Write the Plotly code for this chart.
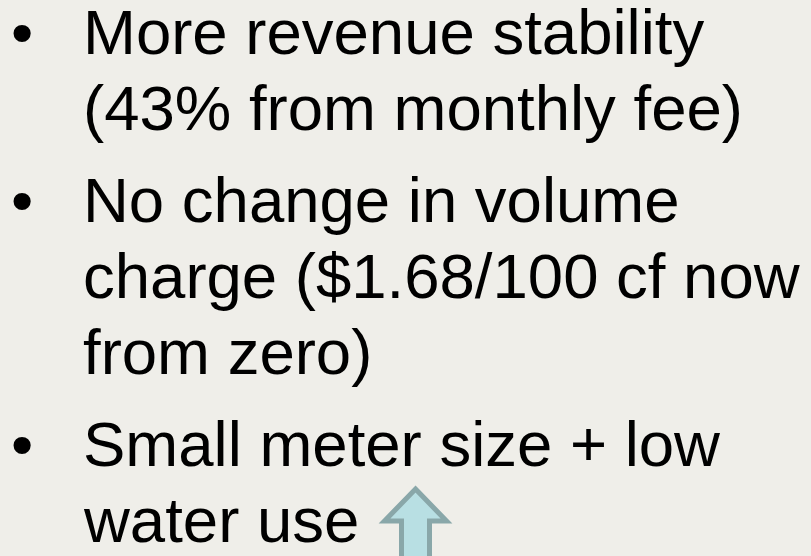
import plotly.graph_objects as go

# Slide content: (text, starts a new bullet?)
lines = [
    "More revenue stability",
    "(43% from monthly fee)",
    "No change in volume",
    "charge ($1.68/100 cf now",
    "from zero)",
    "Small meter size + low",
    "water use",
]
bullet_start = [True, False, True, False, False, True, False]

W, H = 811, 556
FONT = "Liberation Sans, Arial, sans-serif"
FS = 63.5
first_baseline = 55
line_step = 76
para_extra = 16
text_x = 82
bullet_x = 22
baseline_to_mid = 23.5

fig = go.Figure()
fig.add_trace(go.Scatter(x=[0, W], y=[0, H], mode="markers",
                         marker=dict(opacity=0), hoverinfo="skip", showlegend=False))

annotations = []
baseline = first_baseline
for i, (t, b) in enumerate(zip(lines, bullet_start)):
    if i > 0:
        baseline += line_step + (para_extra if b else 0)
    yc = baseline - baseline_to_mid
    annotations.append(dict(x=text_x, y=yc, xref="x", yref="y", text=t,
                            showarrow=False, xanchor="left", yanchor="middle",
                            borderpad=0, font=dict(family=FONT, size=FS, color="#000000")))
    if b:
        annotations.append(dict(x=bullet_x, y=yc, xref="x", yref="y", text="•",
                                showarrow=False, xanchor="center", yanchor="middle",
                                borderpad=0, font=dict(family=FONT, size=FS, color="#000000")))

# block up-arrow (pixel coordinates on hidden axes)
cx, tip, head_y, head_hw, shaft_hw, bottom = 415.5, 489, 521, 31, 14, 560
arrow_path = (f"M {cx},{tip} L {cx+head_hw},{head_y} L {cx+shaft_hw},{head_y} "
              f"L {cx+shaft_hw},{bottom} L {cx-shaft_hw},{bottom} L {cx-shaft_hw},{head_y} "
              f"L {cx-head_hw},{head_y} Z")

fig.update_layout(
    width=W, height=H,
    margin=dict(l=0, r=0, t=0, b=0),
    paper_bgcolor="#efeee9", plot_bgcolor="#efeee9",
    xaxis=dict(range=[0, W], visible=False, fixedrange=True),
    yaxis=dict(range=[H, 0], visible=False, fixedrange=True),
    annotations=annotations,
    shapes=[dict(type="path", path=arrow_path, xref="x", yref="y",
                 fillcolor="#b8dfe3", line=dict(color="#89a7a9", width=5))],
    showlegend=False,
)

fig.write_html(
    "out.html",
    config={"displayModeBar": False},
    post_script="document.body.style.margin='0';document.body.style.background='#efeee9';",
)
